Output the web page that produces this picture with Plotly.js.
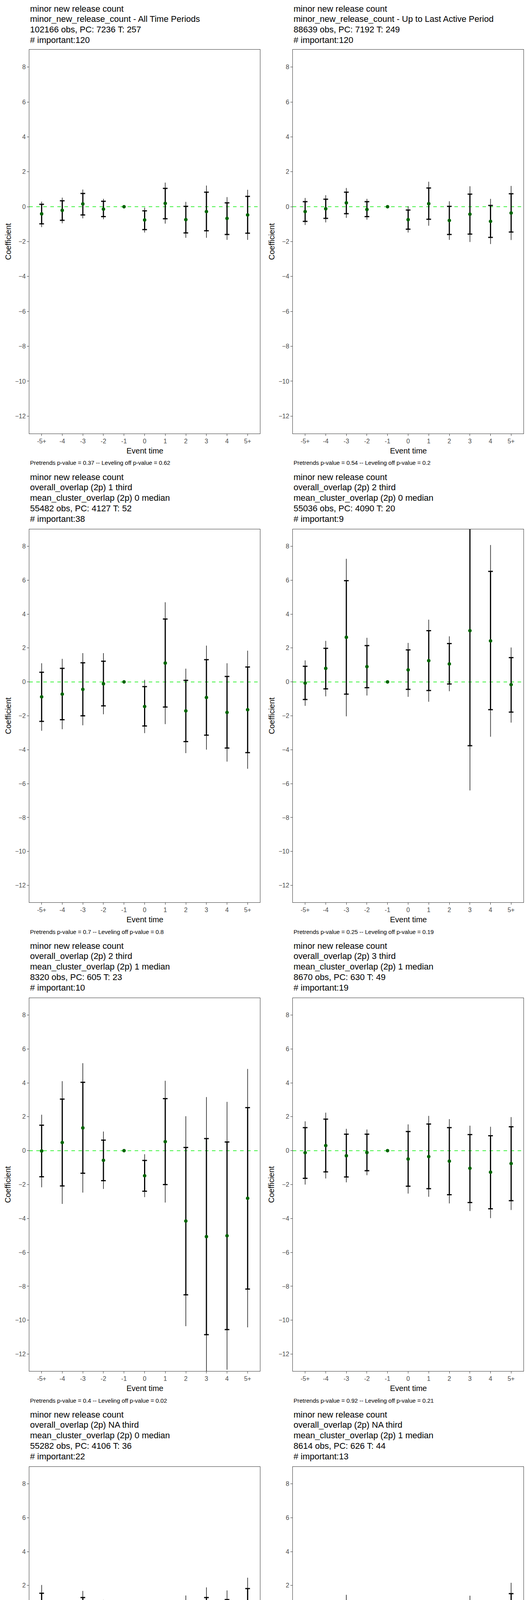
<!DOCTYPE html>
<html>
<head>
<meta charset="utf-8">
<script src="https://cdn.plot.ly/plotly-3.0.1.min.js"></script>
<style>
  body { margin: 0; background: #fff; }
  #myDiv { width: 1350px; height: 4800px; }
</style>
</head>
<body>
<div id="myDiv"></div>
<script>
var eventTimes = ['-5+', '-4', '-3', '-2', '-1', '0', '1', '2', '3', '4', '5+'];

var titles = [
  ['minor new release count', 'minor_new_release_count - All Time Periods', '102166 obs, PC: 7236 T: 257', '# important:120'],
  ['minor new release count', 'minor_new_release_count - Up to Last Active Period', '88639 obs, PC: 7192 T: 249', '# important:120'],
  ['minor new release count', 'overall_overlap (2p) 1 third', 'mean_cluster_overlap (2p) 0 median', '55482 obs, PC: 4127 T: 52', '# important:38'],
  ['minor new release count', 'overall_overlap (2p) 2 third', 'mean_cluster_overlap (2p) 0 median', '55036 obs, PC: 4090 T: 20', '# important:9'],
  ['minor new release count', 'overall_overlap (2p) 2 third', 'mean_cluster_overlap (2p) 1 median', '8320 obs, PC: 605 T: 23', '# important:10'],
  ['minor new release count', 'overall_overlap (2p) 3 third', 'mean_cluster_overlap (2p) 1 median', '8670 obs, PC: 630 T: 49', '# important:19'],
  ['minor new release count', 'overall_overlap (2p) NA third', 'mean_cluster_overlap (2p) 0 median', '55282 obs, PC: 4106 T: 36', '# important:22'],
  ['minor new release count', 'overall_overlap (2p) NA third', 'mean_cluster_overlap (2p) 1 median', '8614 obs, PC: 626 T: 44', '# important:13']
];

var footnotes = [
  'Pretrends p-value = 0.37 -- Leveling off p-value = 0.62',
  'Pretrends p-value = 0.54 -- Leveling off p-value = 0.2',
  'Pretrends p-value = 0.7 -- Leveling off p-value = 0.8',
  'Pretrends p-value = 0.25 -- Leveling off p-value = 0.19',
  'Pretrends p-value = 0.4 -- Leveling off p-value = 0.02',
  'Pretrends p-value = 0.92 -- Leveling off p-value = 0.21',
  'Pretrends p-value = 0.83 -- Leveling off p-value = 0.65',
  'Pretrends p-value = 0.29 -- Leveling off p-value = 0.2'
];

// point estimates (event time -1 is the reference, 0)
var est = [
  [-0.41, -0.21, 0.16, -0.14, 0, -0.76, 0.19, -0.74, -0.28, -0.67, -0.47],
  [-0.28, -0.12, 0.22, -0.16, 0, -0.74, 0.17, -0.79, -0.43, -0.84, -0.36],
  [-0.88, -0.72, -0.44, -0.11, 0, -1.45, 1.11, -1.71, -0.92, -1.80, -1.64],
  [-0.07, 0.80, 2.63, 0.90, 0, 0.71, 1.25, 1.06, 3.02, 2.42, -0.16],
  [-0.02, 0.48, 1.34, -0.57, 0, -1.48, 0.53, -4.15, -5.07, -5.02, -2.81],
  [-0.12, 0.30, -0.30, -0.11, 0, -0.49, -0.35, -0.62, -1.04, -1.27, -0.76],
  [0.27, -0.21, 0.18, -0.23, 0, -0.57, -0.72, -0.67, -0.37, -0.34, 0.05],
  [-0.53, -0.32, 0.09, -0.32, 0, -0.62, -0.78, -0.49, -0.42, -0.81, -0.04]
];
var innerLo = [
  [-0.98, -0.78, -0.47, -0.57, null, -1.31, -0.69, -1.50, -1.38, -1.59, -1.52],
  [-0.84, -0.67, -0.40, -0.57, null, -1.29, -0.72, -1.59, -1.57, -1.76, -1.45],
  [-2.33, -2.23, -2.00, -1.41, null, -2.60, -1.48, -3.52, -3.14, -3.90, -4.17],
  [-1.04, -0.41, -0.72, -0.34, null, -0.44, -0.51, -0.12, -3.76, -1.64, -1.78],
  [-1.54, -2.08, -1.33, -1.77, null, -2.39, -2.00, -8.50, -10.85, -10.55, -8.16],
  [-1.63, -1.25, -1.55, -1.18, null, -2.10, -2.24, -2.60, -3.06, -3.43, -2.95],
  [-1.04, -1.11, -0.92, -1.25, null, -1.70, -1.73, -2.19, -2.03, -1.86, -1.70],
  [-1.17, -1.33, -0.85, -0.94, null, -1.22, -1.45, -1.34, -1.70, -1.70, -1.59]
];
var innerHi = [
  [0.14, 0.34, 0.76, 0.31, null, -0.24, 1.05, 0.02, 0.83, 0.22, 0.59],
  [0.29, 0.43, 0.83, 0.29, null, -0.19, 1.07, 0.02, 0.72, 0.07, 0.74],
  [0.57, 0.80, 1.13, 1.22, null, -0.28, 3.71, 0.09, 1.31, 0.32, 0.88],
  [0.92, 1.98, 5.97, 2.14, null, 1.89, 3.02, 2.26, 9.80, 6.52, 1.43],
  [1.50, 3.04, 4.03, 0.62, null, -0.58, 3.07, 0.19, 0.71, 0.51, 2.54],
  [1.36, 1.86, 0.97, 0.97, null, 1.13, 1.57, 1.36, 0.95, 0.88, 1.41],
  [1.54, 0.65, 1.29, 0.78, null, 0.55, 0.28, 0.85, 1.29, 1.17, 1.82],
  [0.11, 0.72, 1.06, 0.32, null, -0.02, -0.12, 0.35, 0.87, 0.09, 1.52]
];
var outerLo = [
  [-1.17, -0.95, -0.67, -0.72, null, -1.48, -0.97, -1.78, -1.78, -1.90, -1.90],
  [-1.05, -0.90, -0.64, -0.74, null, -1.48, -1.09, -1.90, -2.02, -2.14, -1.91],
  [-2.88, -2.79, -2.56, -1.91, null, -3.02, -2.49, -4.20, -3.99, -4.70, -5.12],
  [-1.41, -0.85, -2.03, -0.80, null, -0.88, -1.17, -0.55, -6.40, -3.23, -2.40],
  [-2.16, -3.14, -2.47, -2.26, null, -2.74, -3.06, -10.35, -13.30, -12.92, -10.42],
  [-2.00, -1.64, -1.87, -1.45, null, -2.53, -2.72, -3.11, -3.56, -3.98, -3.50],
  [-1.52, -1.43, -1.33, -1.63, null, -2.10, -2.10, -2.77, -2.63, -2.42, -2.35],
  [-1.45, -1.77, -1.25, -1.18, null, -1.45, -1.70, -1.68, -2.23, -2.07, -2.24]
];
var outerHi = [
  [0.29, 0.52, 0.98, 0.45, null, -0.05, 1.38, 0.28, 1.21, 0.55, 0.97],
  [0.50, 0.66, 1.07, 0.45, null, 0.02, 1.43, 0.31, 1.17, 0.45, 1.19],
  [1.10, 1.36, 1.70, 1.70, null, 0.12, 4.70, 0.78, 2.14, 1.10, 1.84],
  [1.27, 2.42, 7.26, 2.60, null, 2.30, 3.67, 2.69, 12.44, 8.07, 2.03],
  [2.12, 4.10, 5.16, 1.13, null, -0.21, 4.12, 2.03, 3.16, 2.88, 4.82],
  [1.73, 2.24, 1.29, 1.25, null, 1.55, 2.05, 1.86, 1.47, 1.41, 1.98],
  [2.03, 0.99, 1.68, 1.15, null, 0.95, 0.64, 1.41, 1.89, 1.71, 2.46],
  [0.35, 1.13, 1.45, 0.57, null, 0.23, 0.14, 0.69, 1.40, 0.44, 2.16]
];

var W = 1350, H = 4800, panelW = 675, panelH = 1200;
var xIdx = eventTimes.map(function(d, i) { return i; });
var fontFam = 'Liberation Sans, Arial, sans-serif';

var data = [];
var layout = {
  width: W, height: H,
  margin: {l: 0, r: 0, t: 0, b: 0},
  showlegend: false,
  paper_bgcolor: '#fff', plot_bgcolor: '#fff',
  font: {family: fontFam, color: '#000'},
  annotations: [], shapes: []
};

function px(v) { return v / W; }
function py(v) { return 1 - v / H; }

for (var p = 0; p < 8; p++) {
  var col = p % 2, row = Math.floor(p / 2);
  var ox = col * panelW, oy = row * panelH;
  var plotTop = oy + (row === 0 ? 127 : 155), plotBottom = oy + 1110;
  var plotLeft = ox + 75, plotRight = ox + 666;
  var n = p + 1;
  var xa = 'x' + (n === 1 ? '' : n), ya = 'y' + (n === 1 ? '' : n);

  var barY = est[p].map(function(v, i) { return innerLo[p][i] === null ? null : v; });
  data.push({
    x: xIdx, y: barY, xaxis: xa, yaxis: ya, type: 'scatter', mode: 'markers',
    marker: {size: 1, opacity: 0}, hoverinfo: 'skip',
    error_y: {type: 'data', symmetric: false,
      array: outerHi[p].map(function(v, i) { return v === null ? 0 : v - est[p][i]; }),
      arrayminus: outerLo[p].map(function(v, i) { return v === null ? 0 : est[p][i] - v; }),
      color: '#222', thickness: 1.6, width: 0}
  });
  data.push({
    x: xIdx, y: barY, xaxis: xa, yaxis: ya, type: 'scatter', mode: 'markers',
    marker: {size: 1, opacity: 0}, hoverinfo: 'skip',
    error_y: {type: 'data', symmetric: false,
      array: innerHi[p].map(function(v, i) { return v === null ? 0 : v - est[p][i]; }),
      arrayminus: innerLo[p].map(function(v, i) { return v === null ? 0 : est[p][i] - v; }),
      color: '#000', thickness: 3, width: 6}
  });
  data.push({
    x: xIdx, y: est[p], xaxis: xa, yaxis: ya, type: 'scatter', mode: 'markers',
    marker: {size: 9, color: '#006400'}
  });

  layout['xaxis' + (n === 1 ? '' : n)] = {
    domain: [px(plotLeft), px(plotRight)], anchor: ya,
    range: [-0.6, 10.6], tickvals: xIdx, ticktext: eventTimes,
    showgrid: false, zeroline: false, showline: true, mirror: true,
    linecolor: '#333', linewidth: 1, ticks: 'outside', ticklen: 5, tickcolor: '#333',
    tickfont: {size: 16, color: '#4d4d4d', family: fontFam}
  };
  layout['yaxis' + (n === 1 ? '' : n)] = {
    domain: [py(plotBottom), py(plotTop)], anchor: xa,
    range: [-13, 9], tickvals: [-12, -10, -8, -6, -4, -2, 0, 2, 4, 6, 8],
    showgrid: false, zeroline: false, showline: true, mirror: true,
    linecolor: '#333', linewidth: 1, ticks: 'outside', ticklen: 5, tickcolor: '#333',
    tickfont: {size: 16, color: '#4d4d4d', family: fontFam}
  };

  layout.shapes.push({
    type: 'line', xref: xa + ' domain', yref: ya, x0: 0, x1: 1, y0: 0, y1: 0,
    line: {color: '#00ee00', width: 1.5, dash: 'dash'}, layer: 'below'
  });

  var lines = titles[p];
  var y0 = row === 0 ? 22 : 21;
  var step = row === 0 ? 26.7 : 26.8;
  for (var k = 0; k < lines.length; k++) {
    layout.annotations.push({
      text: lines[k], xref: 'paper', yref: 'paper',
      x: px(ox + 75), y: py(oy + y0 + k * step), xanchor: 'left', yanchor: 'middle',
      showarrow: false, font: {size: 22, color: '#000', family: fontFam}
    });
  }
  layout.annotations.push({
    text: 'Event time', xref: 'paper', yref: 'paper',
    x: px((plotLeft + plotRight) / 2), y: py(oy + 1154), xanchor: 'center', yanchor: 'middle',
    showarrow: false, font: {size: 20, color: '#000', family: fontFam}
  });
  layout.annotations.push({
    text: 'Coefficient', xref: 'paper', yref: 'paper', textangle: -90,
    x: px(ox + 20), y: py((plotTop + plotBottom) / 2), xanchor: 'center', yanchor: 'middle',
    showarrow: false, font: {size: 20, color: '#000', family: fontFam}
  });
  layout.annotations.push({
    text: footnotes[p], xref: 'paper', yref: 'paper',
    x: px(ox + 75), y: py(oy + 1185), xanchor: 'left', yanchor: 'middle',
    showarrow: false, font: {size: 15, color: '#000', family: fontFam}
  });
}

Plotly.newPlot('myDiv', data, layout, {staticPlot: true});
</script>
</body>
</html>
